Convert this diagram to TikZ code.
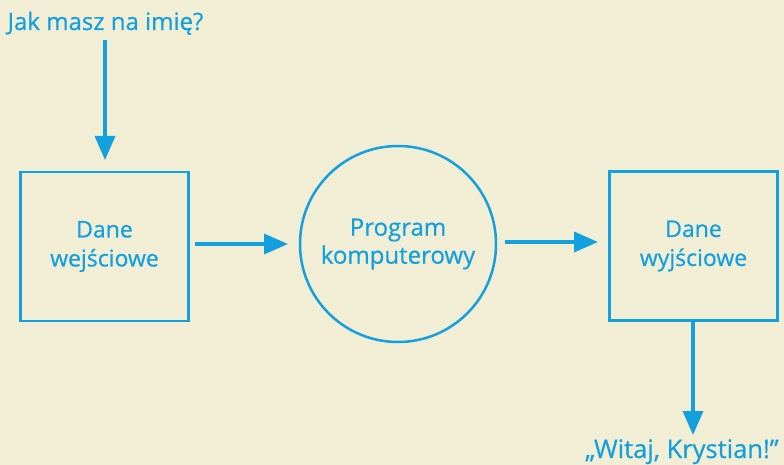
\documentclass[tikz,border=0pt]{standalone}
\usepackage{fontspec}
\setmainfont{Open Sans}[FakeBold=0.6]
\usetikzlibrary{arrows.meta}
\definecolor{myblue}{RGB}{18,160,222}
\definecolor{paper}{RGB}{242,238,214}
\tikzset{
  conn/.style={myblue,line width=3.5pt,-{Triangle[width=20pt,length=24pt]}},
  boxnode/.style={draw=myblue,line width=2.5pt,minimum width=168pt,minimum height=149pt,text=myblue,font=\fontsize{23}{29}\selectfont,align=center},
  circnode/.style={draw=myblue,line width=2.5pt,circle,minimum size=196pt,text=myblue,font=\fontsize{24}{28}\selectfont,align=center},
  lbl/.style={text=myblue,inner sep=0pt,anchor=base}
}
\begin{document}
\begin{tikzpicture}[x=1pt,y=-1pt]
\fill[paper] (0,0) rectangle (784,465);
\useasboundingbox (0,0) rectangle (784,465);
\node[lbl,font=\fontsize{24}{28}\selectfont] (q) at (105.5,30) {Jak masz na imię?};
\node[boxnode] (in) at (104.5,246.5) {Dane\\wejściowe};
\node[circnode] (prog) at (398,244) {Program\\komputerowy};
\node[boxnode] (out) at (693.5,246) {Dane\\wyjściowe};
\node[lbl,font=\fontsize{25.5}{30}\selectfont] (ans) at (682,458) {„Witaj, Krystian!”};
\coordinate (qa) at (105,40);
\coordinate (qb) at (105,160);
\draw[conn] (qa) -- (qb);
\coordinate (a1) at (195,244);
\coordinate (b1) at (288,244);
\draw[conn] (a1) -- (b1);
\coordinate (a2) at (505,242);
\coordinate (b2) at (598,242);
\draw[conn] (a2) -- (b2);
\coordinate (a3) at (693,322);
\coordinate (b3) at (693,435);
\draw[conn] (a3) -- (b3);
\end{tikzpicture}
\end{document}
